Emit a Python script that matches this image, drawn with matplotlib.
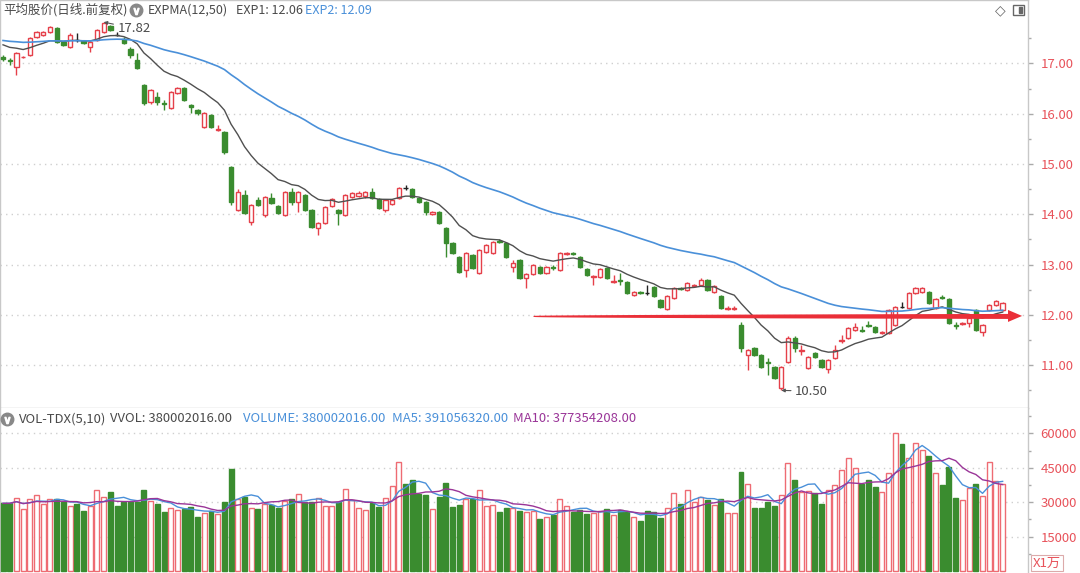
import matplotlib.pyplot as plt
import numpy as np
import pandas as pd
from matplotlib.lines import Line2D
from matplotlib.patches import Polygon, Rectangle

plt.rcParams['font.family'] = ['Noto Sans CJK SC', 'DejaVu Sans']

# 日线 K 线 (前复权), oldest first
opens = [17.12, 17.07, 16.93, 17.12, 17.17, 17.53, 17.57, 17.63, 17.70, 17.43,
         17.33, 17.47, 17.45, 17.33, 17.47, 17.63, 17.75, 17.57, 17.49, 17.29,
         17.07, 16.57, 16.23, 16.33, 16.21, 16.11, 16.41, 16.51, 16.17, 16.08,
         15.74, 15.97, 15.67, 15.64, 14.94, 14.09, 14.38, 13.85, 14.29, 13.99,
         14.33, 14.17, 13.99, 14.45, 14.25, 14.39, 14.09, 13.73, 13.83, 14.16,
         14.09, 13.99, 14.35, 14.36, 14.37, 14.45, 14.30, 14.09, 14.21, 14.33,
         14.52, 14.51, 14.33, 14.25, 14.01, 14.05, 13.73, 13.43, 13.15, 12.89,
         13.19, 12.83, 13.25, 13.23, 13.46, 13.43, 12.95, 13.09, 12.73, 12.81,
         12.95, 12.83, 12.96, 12.89, 13.22, 13.24, 13.15, 12.91, 12.76, 12.75,
         12.93, 12.66, 12.70, 12.65, 12.39, 12.46, 12.43, 12.55, 12.29, 12.11,
         12.33, 12.54, 12.49, 12.58, 12.59, 12.69, 12.45, 12.37, 12.12, 12.12,
         11.80, 11.20, 11.34, 11.20, 11.07, 10.96, 10.55, 11.06, 11.54, 11.29,
         10.94, 11.24, 11.10, 10.93, 11.14, 11.49, 11.54, 11.70, 11.71, 11.80,
         11.76, 11.64, 11.64, 11.80, 12.15, 12.14, 12.44, 12.45, 12.45, 12.13,
         12.36, 12.31, 11.80, 11.82, 11.84, 12.10, 11.66, 12.10, 12.19, 12.10]
highs = [17.16, 17.10, 17.23, 17.15, 17.53, 17.64, 17.65, 17.74, 17.72, 17.45,
         17.61, 17.61, 17.47, 17.45, 17.69, 17.82, 17.77, 17.63, 17.52, 17.33,
         17.21, 16.60, 16.50, 16.43, 16.27, 16.45, 16.53, 16.53, 16.19, 16.10,
         16.03, 15.99, 15.78, 15.66, 14.96, 14.50, 14.48, 14.21, 14.35, 14.37,
         14.43, 14.19, 14.47, 14.52, 14.47, 14.41, 14.11, 13.85, 14.17, 14.32,
         14.11, 14.41, 14.45, 14.46, 14.47, 14.52, 14.32, 14.31, 14.31, 14.55,
         14.58, 14.53, 14.35, 14.27, 14.07, 14.07, 13.75, 13.45, 13.17, 13.25,
         13.21, 13.31, 13.41, 13.47, 13.50, 13.45, 13.09, 13.11, 12.83, 13.01,
         12.97, 12.97, 13.00, 13.25, 13.26, 13.26, 13.17, 12.93, 12.80, 12.93,
         12.95, 12.79, 12.83, 12.67, 12.47, 12.48, 12.59, 12.57, 12.31, 12.39,
         12.55, 12.56, 12.65, 12.62, 12.73, 12.71, 12.59, 12.39, 12.17, 12.17,
         11.86, 11.32, 11.36, 11.22, 11.14, 10.98, 10.98, 11.58, 11.58, 11.40,
         11.18, 11.26, 11.12, 11.12, 11.40, 11.60, 11.76, 11.84, 11.78, 11.88,
         11.78, 11.68, 12.12, 12.18, 12.26, 12.45, 12.55, 12.56, 12.47, 12.33,
         12.39, 12.33, 11.86, 11.86, 11.95, 12.12, 11.82, 12.22, 12.29, 12.26]
lows = [17.05, 16.97, 16.77, 17.10, 17.15, 17.51, 17.55, 17.61, 17.41, 17.34,
        17.31, 17.43, 17.38, 17.23, 17.45, 17.61, 17.65, 17.55, 17.39, 17.11,
        16.89, 16.17, 16.20, 16.17, 16.08, 16.09, 16.39, 16.25, 16.01, 15.98,
        15.71, 15.71, 15.66, 15.20, 14.19, 14.06, 14.01, 13.79, 14.17, 13.95,
        14.21, 14.01, 13.97, 14.19, 14.05, 14.07, 13.73, 13.59, 13.81, 14.14,
        13.79, 13.97, 14.33, 14.34, 14.33, 14.30, 14.11, 14.05, 14.19, 14.31,
        14.49, 14.33, 14.23, 13.99, 13.99, 13.81, 13.15, 13.21, 12.83, 12.76,
        12.91, 12.81, 13.23, 13.21, 13.42, 13.13, 12.85, 12.71, 12.53, 12.79,
        12.81, 12.81, 12.90, 12.87, 13.20, 13.20, 12.93, 12.77, 12.59, 12.73,
        12.71, 12.63, 12.59, 12.41, 12.37, 12.42, 12.39, 12.35, 12.13, 12.09,
        12.31, 12.50, 12.47, 12.56, 12.57, 12.47, 12.43, 12.11, 12.10, 12.10,
        11.26, 10.90, 11.18, 10.94, 10.80, 10.72, 10.50, 11.04, 11.26, 11.20,
        10.92, 11.14, 10.94, 10.84, 11.12, 11.45, 11.52, 11.68, 11.67, 11.76,
        11.64, 11.62, 11.62, 11.78, 12.14, 12.12, 12.42, 12.43, 12.21, 12.11,
        12.32, 11.81, 11.72, 11.80, 11.76, 11.68, 11.58, 12.08, 12.17, 12.08]
closes = [17.09, 17.04, 17.21, 17.13, 17.51, 17.62, 17.63, 17.72, 17.43, 17.37,
          17.57, 17.47, 17.40, 17.43, 17.67, 17.80, 17.67, 17.57, 17.41, 17.17,
          16.91, 16.21, 16.47, 16.24, 16.19, 16.43, 16.51, 16.27, 16.14, 16.01,
          16.01, 15.74, 15.69, 15.24, 14.25, 14.45, 14.03, 14.19, 14.19, 14.35,
          14.23, 14.03, 14.45, 14.25, 14.45, 14.09, 13.75, 13.83, 14.15, 14.30,
          14.03, 14.39, 14.43, 14.43, 14.44, 14.33, 14.13, 14.29, 14.29, 14.53,
          14.52, 14.35, 14.25, 14.05, 14.05, 13.83, 13.43, 13.23, 12.85, 13.23,
          12.93, 13.29, 13.39, 13.45, 13.44, 13.15, 13.03, 12.73, 12.81, 12.99,
          12.83, 12.95, 12.94, 13.23, 13.24, 13.22, 12.95, 12.79, 12.78, 12.91,
          12.73, 12.68, 12.68, 12.43, 12.45, 12.44, 12.43, 12.37, 12.15, 12.37,
          12.53, 12.52, 12.63, 12.60, 12.69, 12.49, 12.57, 12.13, 12.14, 12.14,
          11.34, 11.30, 11.20, 10.96, 11.05, 10.74, 10.96, 11.54, 11.34, 11.31,
          11.16, 11.16, 10.96, 11.10, 11.30, 11.51, 11.74, 11.76, 11.69, 11.78,
          11.66, 11.66, 12.10, 12.16, 12.15, 12.43, 12.53, 12.54, 12.23, 12.31,
          12.34, 11.83, 11.78, 11.84, 11.93, 11.70, 11.80, 12.20, 12.27, 12.24]
# 成交量 (X1万)
volumes = [29500, 29500, 31700, 26900, 31300, 33100, 29200, 31300, 31300, 30200,
           28300, 29200, 26300, 28300, 35300, 32400, 34400, 28300, 30200, 30200,
           30200, 35300, 30700, 29200, 25900, 27300, 26600, 27000, 28000, 23700,
           25400, 26200, 24700, 30200, 44300, 31300, 32400, 27600, 27000, 29100,
           28800, 27300, 30500, 31400, 33400, 30200, 30200, 32000, 28300, 28300,
           30200, 35700, 31000, 27300, 26600, 29500, 28000, 31700, 37200, 47400,
           37900, 39700, 33400, 33100, 26900, 32400, 38500, 27900, 28800, 31400,
           31300, 35300, 28300, 28800, 25900, 27600, 27600, 26200, 25900, 26200,
           22700, 23700, 24400, 31300, 28300, 25900, 26600, 24700, 25200, 26200,
           27000, 24400, 26600, 25900, 23700, 21800, 26200, 25900, 23000, 27600,
           33900, 29100, 35300, 30200, 32400, 31000, 28800, 31300, 25200, 25200,
           43300, 37900, 27600, 27600, 30000, 28500, 33100, 47000, 39700, 34300,
           34900, 33900, 29100, 35300, 37500, 44000, 49100, 45000, 37900, 39700,
           36700, 34600, 42600, 60300, 55400, 49300, 55900, 52700, 50100, 42600,
           37500, 45500, 31700, 31000, 36000, 37900, 32700, 47400, 39400, 38000]

exp1_seed = 17.42
exp2_seed = 17.47
price_ticks = [11, 12, 13, 14, 15, 16, 17]
volume_ticks = [15000, 30000, 45000, 60000]
support_level = 11.98
support_from, support_to = 79.0, 151.9

RED = '#e5404a'
RED_VOL = '#ee6b73'
GREEN = '#3a8c2f'
BLUE = '#4a90d9'
PURPLE = '#9a3598'
TEXT = '#4a4a4a'
AXIS_RED = '#e8535b'
GRID = '#cfcfcf'
FRAME = '#c8c8c8'
ARROW_RED = '#ea2f38'


def expma(values, span, seed):
    alpha = 2 / (span + 1)
    out, prev = [], seed
    for v in values:
        prev = alpha * v + (1 - alpha) * prev
        out.append(prev)
    return np.array(out)


o, h, l, c = (np.array(a) for a in (opens, highs, lows, closes))
vol = np.array(volumes, dtype=float)
n = len(c)
x = np.arange(n)
prev_close = np.r_[c[0], c[:-1]]
flat = np.isclose(c, o)
rising = (c > o) & ~flat

W, H = 1080, 573
fig = plt.figure(figsize=(W / 100, H / 100), dpi=100)


def fig_box(left, top, right, bottom):
    return [left / W, 1 - bottom / H, (right - left) / W, (bottom - top) / H]


ax = fig.add_axes(fig_box(0, 0, 1028, 408))
axv = fig.add_axes(fig_box(0, 408, 1028, 573), sharex=ax)

# ---- price pane ----
cndl_col = np.where(flat, '#222222', np.where(rising, RED, GREEN))
body_lo = np.minimum(o, c)
body_hi = np.maximum(o, c)
ax.vlines(x, body_hi, h, colors=cndl_col, lw=1, zorder=3)
ax.vlines(x, l, body_lo, colors=cndl_col, lw=1, zorder=3)
ax.bar(x, np.maximum(body_hi - body_lo, 0.004), bottom=body_lo, width=0.64,
       color=np.where(rising | flat, 'white', GREEN), edgecolor=cndl_col,
       linewidth=1, zorder=4)

ax.plot(x, expma(c, 12, exp1_seed), color='#505050', lw=1, zorder=5)
ax.plot(x, expma(c, 50, exp2_seed), color=BLUE, lw=1.2, zorder=5)

# support arrow
px_price = (18.26 - 10.15) / 408
shaft_end = support_to - 2.1
xs = np.linspace(support_from, shaft_end, 200)
half = (0.5 + 2.0 * np.sqrt((xs - support_from) / (shaft_end - support_from))) * px_price
ax.fill_between(xs, support_level - half, support_level + half, color=ARROW_RED, lw=0, zorder=6)
ax.add_patch(Polygon([[shaft_end, support_level + 6 * px_price], [support_to, support_level],
                      [shaft_end, support_level - 6 * px_price]], closed=True,
                     color=ARROW_RED, lw=0, zorder=6))

i_hi, i_lo = int(np.argmax(h)), int(np.argmin(l))
arrow_kw = dict(arrowstyle='-|>', color='#555555', lw=0.8, mutation_scale=5, shrinkA=1, shrinkB=0)
ax.annotate(f'{h[i_hi]:.2f}', xy=(i_hi, h[i_hi]), xytext=(10, -4.5), textcoords='offset points',
            fontsize=9.5, color=TEXT, ha='left', va='center', arrowprops=arrow_kw, zorder=7)
ax.annotate(f'{l[i_lo]:.2f}', xy=(i_lo, l[i_lo]), xytext=(10, -0.5), textcoords='offset points',
            fontsize=9.5, color=TEXT, ha='left', va='center', arrowprops=arrow_kw, zorder=7)

ax.set_ylim(10.15, 18.26)
ax.set_yticks(price_ticks)
ax.set_yticklabels([f'{t:.2f}' for t in price_ticks])
ax.set_yticks(np.arange(10.5, 18, 1.0), minor=True)

# ---- volume pane ----
vol_up = rising | (flat & (c >= prev_close))
axv.bar(x, vol, width=0.74, color=np.where(vol_up, 'white', GREEN),
        edgecolor=np.where(vol_up, RED_VOL, GREEN), linewidth=1, zorder=3)
vs = pd.Series(vol)
axv.plot(x, vs.rolling(5, min_periods=1).mean(), color=BLUE, lw=1, zorder=4)
axv.plot(x, vs.rolling(10, min_periods=1).mean(), color=PURPLE, lw=1, zorder=4)
axv.set_ylim(-870, 71070)
axv.set_yticks(volume_ticks)
axv.set_yticklabels([str(t) for t in volume_ticks])
axv.set_yticks(np.arange(7500, 70000, 15000), minor=True)

for a in (ax, axv):
    a.set_xlim(-0.45, n + 2.78)
    a.yaxis.tick_right()
    a.tick_params(axis='y', which='major', length=3.6, width=1, color='#aaaaaa',
                  labelcolor=AXIS_RED, labelsize=9.5, pad=5.5)
    a.tick_params(axis='y', which='minor', length=2.2, width=1, color='#aaaaaa')
    a.tick_params(axis='x', bottom=False, labelbottom=False)
    a.grid(axis='y', which='major', linestyle=(0, (1, 3)), color=GRID, lw=1)
    a.set_axisbelow(True)
    for s in a.spines.values():
        s.set_color(FRAME)
        s.set_linewidth(1)
axv.spines['top'].set_visible(False)
axv.spines['bottom'].set_visible(False)

# ---- header texts ----
def header(px, py, s, color=TEXT, size=9.4):
    fig.text(px / W, 1 - py / H, s, color=color, fontsize=size, ha='left', va='center')


def badge(px, py):
    fig.add_artist(Line2D([px / W], [1 - py / H], marker='o', ms=9, color='#888888',
                          transform=fig.transFigure))
    fig.add_artist(Line2D([px / W], [1 - (py + 0.5) / H], marker=r'$\vee$', ms=4.5,
                          color='white', transform=fig.transFigure))


header(3, 10, '平均股价(日线.前复权)', size=9)
badge(136, 10)
header(148, 10, 'EXPMA(12,50)', size=9)
header(236, 10, 'EXP1: 12.06', size=9)
header(305, 10, 'EXP2: 12.09', BLUE, size=9)

fig.text(1000 / W, 1 - 10 / H, '◇', color='#666666', fontsize=10, ha='center', va='center',
         family='DejaVu Sans')
fig.add_artist(Rectangle((1013 / W, 1 - 15 / H), 11 / W, 10 / H, fill=False, ec='#666666',
                         lw=1, transform=fig.transFigure))
fig.add_artist(Rectangle((1019 / W, 1 - 13 / H), 3 / W, 6 / H, color='#666666',
                         transform=fig.transFigure))

badge(7, 419)
header(19, 419, 'VOL-TDX(5,10)')
header(110, 419, 'VVOL: 380002016.00')
header(243, 419, 'VOLUME: 380002016.00', BLUE)
header(392, 419, 'MA5: 391056320.00', BLUE)
header(513, 419, 'MA10: 377354208.00', PURPLE)

fig.text(1033 / W, 1 - 563 / H, 'X1万', color=AXIS_RED, fontsize=9.5, ha='left', va='center',
         bbox=dict(boxstyle='square,pad=0.12', fc='white', ec='#dcaaaa', lw=0.8))

fig.savefig('out.png', dpi=100, facecolor='white')
